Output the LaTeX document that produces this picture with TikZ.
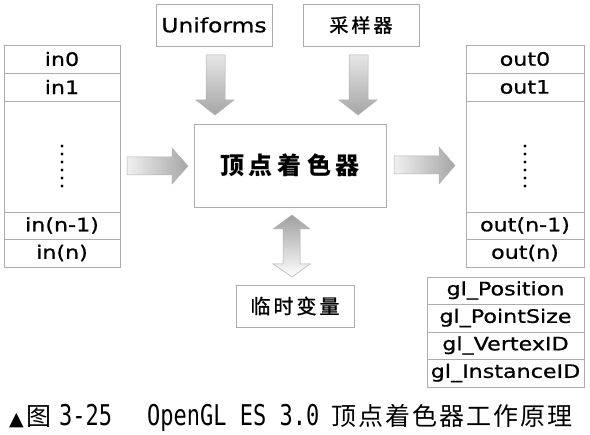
\documentclass[tikz,border=0pt]{standalone}
\usepackage{fontspec}
\setmainfont{DejaVu Sans}
\newfontfamily\lab{DejaVu Sans}[FakeStretch=1.2, FakeBold=0.8]
\newfontfamily\cjk{Noto Sans CJK SC}
\newfontfamily\cjkm{Noto Sans CJK SC}[FakeBold=1.2]
\newfontfamily\capmono{DejaVu Sans Mono}
\newfontfamily\sym{DejaVu Sans}
\tikzset{
  cell/.style={draw=gray!65, line width=0.8pt, fill=white, inner sep=0pt,
    font=\lab\fontsize{18.5}{18.5}\selectfont},
  cbox/.style={draw=gray!65, line width=0.8pt, fill=white, inner sep=0pt},
  blockarrow/.style={draw=gray!60, line width=0.5pt},
  dotmark/.style={fill=black},
  captext/.style={anchor=base west, inner sep=0pt}
}
\begin{document}
\begin{tikzpicture}[x=1pt,y=-1pt]
\useasboundingbox[fill=white] (0,0) rectangle (590,435);
% left column
\node[cell, minimum width=116pt, minimum height=28pt] (in0) at (62,59) {in0};
\node[cell, minimum width=116pt, minimum height=28pt] (in1) at (62,87) {in1};
\node[cell, minimum width=116pt, minimum height=111pt] (inmid) at (62,156.5) {};
\node[cell, minimum width=116pt, minimum height=27pt] (inn1) at (62,225.5) {in(n-1)};
\node[cell, minimum width=116pt, minimum height=28pt] (inn) at (62,253) {in(n)};
\foreach \i in {0,...,5} \fill[dotmark] (62,{146+\i*8}) circle (1.6pt);
% right column
\node[cell, minimum width=118pt, minimum height=28pt] (out0) at (525,59) {out0};
\node[cell, minimum width=118pt, minimum height=28pt] (out1) at (525,87) {out1};
\node[cell, minimum width=118pt, minimum height=111pt] (outmid) at (525,156.5) {};
\node[cell, minimum width=118pt, minimum height=27pt] (outn1) at (525,225.5) {out(n-1)};
\node[cell, minimum width=118pt, minimum height=28pt] (outn) at (525,253) {out(n)};
\foreach \i in {0,...,5} \fill[dotmark] (525,{146+\i*8}) circle (1.6pt);
% gl built-ins
\node[cell, minimum width=157pt, minimum height=27pt] (glpos) at (505.5,290.5) {gl\_Position};
\node[cell, minimum width=157pt, minimum height=28pt] (glps) at (505.5,318) {gl\_PointSize};
\node[cell, minimum width=157pt, minimum height=27pt] (glvid) at (505.5,345.5) {gl\_VertexID};
\node[cell, minimum width=157pt, minimum height=28pt] (gliid) at (505.5,373) {gl\_InstanceID};
% top boxes
\node[cbox, minimum width=116pt, minimum height=42pt, font=\lab\fontsize{19.5}{19.5}\selectfont] (unif) at (214,25) {Uniforms};
\node[cbox, minimum width=116pt, minimum height=42pt, font=\cjkm\fontsize{19}{19}\selectfont] (samp) at (361,25) {采\hspace{3pt}样\hspace{3pt}器};
% centre box
\node[cbox, minimum width=192pt, minimum height=83pt, font=\cjk\bfseries\fontsize{24}{24}\selectfont] (vs) at (290,165.5) {顶\hspace{5pt}点\hspace{5pt}着\hspace{5pt}色\hspace{5pt}器};
% temp box
\node[cbox, minimum width=118pt, minimum height=42pt, font=\cjkm\fontsize{20}{20}\selectfont] (tmp) at (295,306) {临\hspace{3pt}时\hspace{3pt}变\hspace{3pt}量};
% arrows
\path[blockarrow, left color=gray!12, right color=gray!70]
  (127,157) -- (172,157) -- (172,148) -- (188,166) -- (172,184) -- (172,175) -- (127,175) -- cycle;
\path[blockarrow, left color=gray!12, right color=gray!70]
  (394,156) -- (439,156) -- (439,147) -- (455,165.5) -- (439,184) -- (439,174) -- (394,174) -- cycle;
\path[blockarrow, top color=gray!20, bottom color=gray!70]
  (206,55) -- (225,55) -- (225,100) -- (234,100) -- (215,115) -- (196,100) -- (206,100) -- cycle;
\path[blockarrow, top color=gray!20, bottom color=gray!70]
  (349,55) -- (368,55) -- (368,100) -- (377,100) -- (358,115) -- (339,100) -- (349,100) -- cycle;
\path[blockarrow, top color=gray!75, bottom color=white]
  (292,215) -- (310,229) -- (300,229) -- (300,264) -- (310,264) -- (292,277) -- (273,264) -- (283,264) -- (283,229) -- (273,229) -- cycle;
% caption
\node[captext, font=\sym\fontsize{19}{19}\selectfont] (c1) at (9,426) {▲};
\node[captext, font=\cjk\fontsize{25}{25}\selectfont] (c2) at (26,426) {图};
\node[captext, font=\capmono\fontsize{22}{22}\selectfont] (c3) at (59,426) {\scalebox{1}[1.3]{3-25}};
\node[captext, font=\capmono\fontsize{22}{22}\selectfont] (c4) at (147,426) {\scalebox{1}[1.3]{OpenGL ES 3.0}};
\node[captext, font=\cjk\fontsize{25}{25}\selectfont] (c5) at (331,426) {顶\hspace{2pt}点\hspace{2pt}着\hspace{2pt}色\hspace{2pt}器\hspace{2pt}工\hspace{2pt}作\hspace{2pt}原\hspace{2pt}理};
\end{tikzpicture}
\end{document}
